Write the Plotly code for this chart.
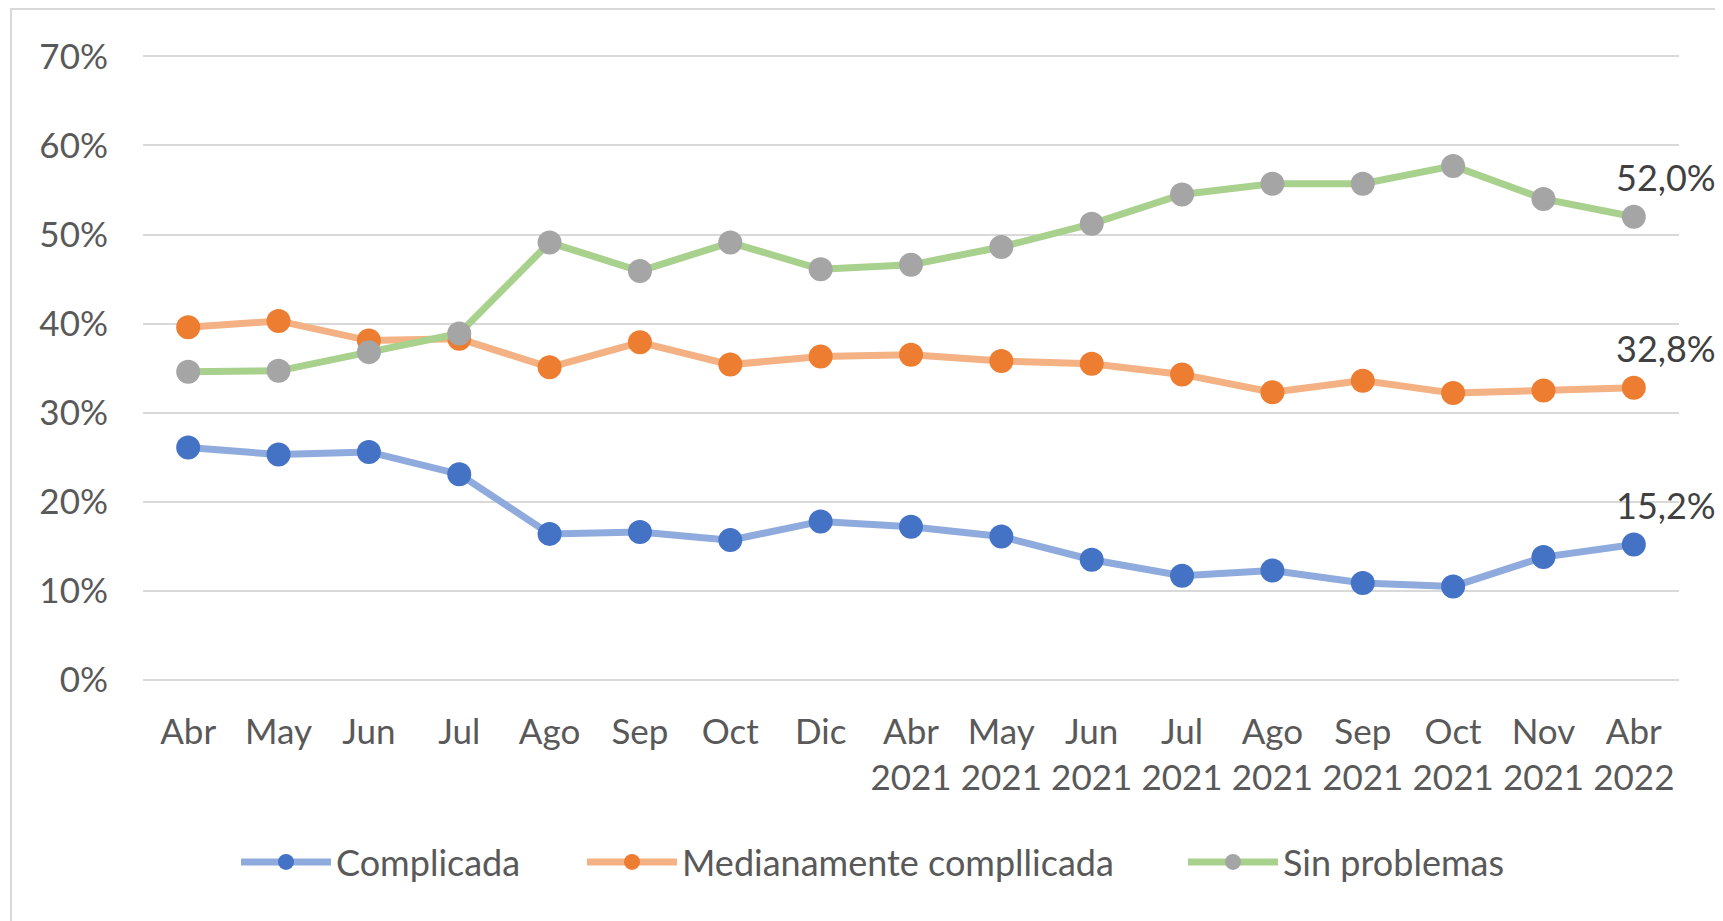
import plotly.graph_objects as go

categories = ["Abr", "May", "Jun", "Jul", "Ago", "Sep", "Oct", "Dic",
              "Abr<br>2021", "May<br>2021", "Jun<br>2021", "Jul<br>2021",
              "Ago<br>2021", "Sep<br>2021", "Oct<br>2021", "Nov<br>2021",
              "Abr<br>2022"]

complicada = [26.1, 25.3, 25.6, 23.1, 16.4, 16.6, 15.7, 17.8, 17.2, 16.1,
              13.5, 11.7, 12.3, 10.9, 10.5, 13.8, 15.2]
medianamente = [39.6, 40.3, 38.1, 38.3, 35.1, 37.9, 35.4, 36.3, 36.5, 35.8,
                35.5, 34.3, 32.3, 33.6, 32.2, 32.5, 32.8]
sin_problemas = [34.6, 34.7, 36.8, 38.9, 49.1, 45.9, 49.1, 46.1, 46.6, 48.6,
                 51.2, 54.5, 55.7, 55.7, 57.7, 54.0, 52.0]

series_names = ["Complicada", "Medianamente compllicada", "Sin problemas"]
line_colors = ["#8FAADC", "#F4B183", "#A9D18E"]
marker_colors = ["#4472C4", "#ED7D31", "#A5A5A5"]

FONT = "Lato, 'Open Sans', sans-serif"
# the page has an 8px body margin; compensate so absolute positions match
OFF = 8
W, H = 1723 - OFF, 921 - OFF
# absolute target positions of the plot area (page pixels)
PL, PR, PT, PB = 143, 1679, 55, 680
ML = PL - OFF
MT = PT - OFF
MR = (W + OFF) - PR
MB = (H + OFF) - PB
pw = PR - PL
ph = PB - PT

YMAX = 0.7
YTOP = 0.7015

def px_to_paper_x(px):
    return (px - PL) / pw

def px_to_paper_y(py):
    return (PB - py) / ph

fig = go.Figure()
all_series = [complicada, medianamente, sin_problemas]
legend_ids = ["legend", "legend2", "legend3"]
legend_x_px = [246, 592, 1193]
for name, vals, lc, mc, lid in zip(series_names, all_series, line_colors,
                                   marker_colors, legend_ids):
    fig.add_trace(go.Scatter(
        x=categories, y=[v / 100 for v in vals], name=name,
        mode="lines+markers",
        line=dict(color=lc, width=7),
        marker=dict(color=mc, size=24),
        hoverinfo="skip", legend=lid,
    ))

# data labels on the last point of each series
for vals in all_series:
    v = vals[-1]
    fig.add_annotation(
        x=categories[-1], y=v / 100, xref="x", yref="y",
        text=f"{v:.1f}%".replace(".", ","),
        showarrow=False, xshift=32, yshift=40,
        font=dict(family=FONT, size=36, color="#404040"),
    )

# chart border (left/top visible)
fig.add_shape(
    type="rect", xref="paper", yref="paper",
    x0=px_to_paper_x(11), x1=px_to_paper_x(1760),
    y0=px_to_paper_y(960), y1=px_to_paper_y(9),
    line=dict(color="#D9D9D9", width=2), fillcolor="rgba(0,0,0,0)",
    layer="below",
)

legend_common = dict(
    orientation="h", xanchor="left", yanchor="middle",
    y=px_to_paper_y(862),
    font=dict(family=FONT, size=36, color="#595959"),
    itemwidth=90, itemsizing="trace",
    bgcolor="rgba(0,0,0,0)", borderwidth=0,
)

layout_legends = {}
for lid, lx in zip(legend_ids, legend_x_px):
    layout_legends[lid] = dict(legend_common, x=px_to_paper_x(lx - 10))

fig.update_layout(
    width=W, height=H,
    margin=dict(l=ML, r=MR, t=MT, b=MB, pad=0),
    paper_bgcolor="white", plot_bgcolor="white",
    font=dict(family=FONT, size=35, color="#595959"),
    showlegend=True,
    xaxis=dict(
        type="category", range=[-0.5, len(categories) - 0.5],
        showgrid=False, showline=False, zeroline=False, ticks="",
        tickfont=dict(family=FONT, size=35, color="#595959"),
        ticklabelstandoff=28, fixedrange=True,
    ),
    yaxis=dict(
        range=[0, YTOP], tickvals=[0, 0.1, 0.2, 0.3, 0.4, 0.5, 0.6, YMAX],
        tickformat=".0%",
        showgrid=True, gridcolor="#D9D9D9", gridwidth=2,
        zeroline=True, zerolinecolor="#D9D9D9", zerolinewidth=2,
        showline=False, ticks="",
        tickfont=dict(family=FONT, size=35, color="#595959"),
        ticklabelstandoff=34, fixedrange=True,
    ),
    **layout_legends,
)

fig.write_html("out.html")
